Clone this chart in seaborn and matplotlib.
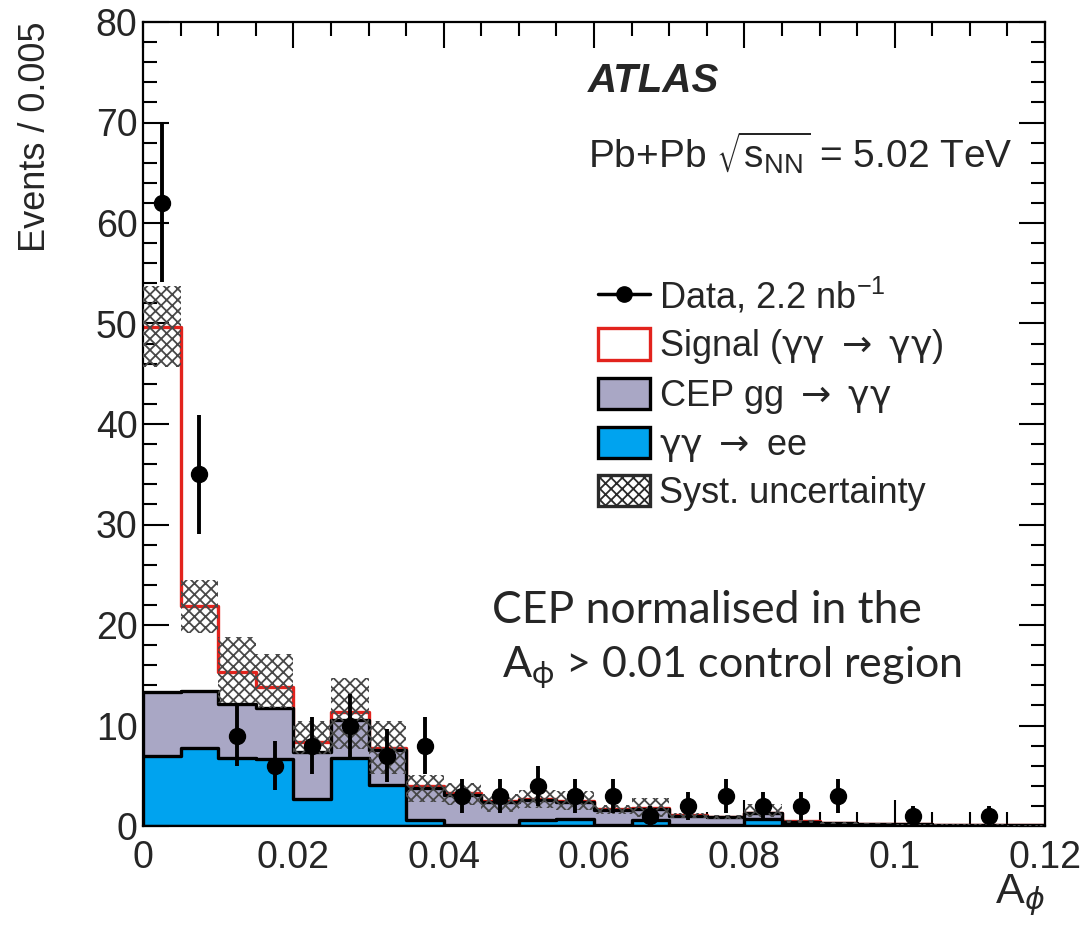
import numpy as np
import pandas as pd
import matplotlib
matplotlib.use("Agg")
import matplotlib.pyplot as plt
import seaborn as sns
from matplotlib.lines import Line2D
from matplotlib.patches import Patch
from matplotlib.ticker import MultipleLocator

# ---- binning and per-bin yields (Events / 0.005) ----
bin_edges = [round(0.005 * i, 3) for i in range(25)]

data_counts = [62, 35, 9, 6, 8, 10, 7, 8, 3, 3, 4, 3, 3, 1, 2, 3, 2, 2, 3, 0, 1, 0, 1, 0]
data_errors = [7.9, 5.9, 3.0, 2.45, 2.8, 3.15, 2.65, 2.8, 1.7, 1.7, 2.0, 1.7,
               1.7, 1.0, 1.4, 1.7, 1.4, 1.4, 1.7, 0.0, 1.0, 0.0, 1.0, 0.0]

ee_yield = [7.0, 7.8, 6.8, 6.7, 2.65, 6.8, 4.05, 0.6, 0.05, 0.05, 0.6, 0.65,
            0.05, 0.6, 0.05, 0.05, 0.7, 0.05, 0.0, 0.0, 0.0, 0.0, 0.0, 0.0]
cep_yield = [6.3, 5.6, 5.3, 5.0, 4.75, 3.75, 3.5, 3.2, 3.05, 2.3, 2.0, 1.75,
             1.55, 1.1, 0.95, 0.8, 0.55, 0.35, 0.3, 0.2, 0.15, 0.1, 0.1, 0.05]
signal_yield = [36.4, 8.5, 3.25, 2.1, 1.0, 0.75, 0.25, 0.2, 0.15, 0.1, 0.1, 0.1,
                0.1, 0.05, 0.05, 0.05, 0.05, 0.05, 0.0, 0.0, 0.0, 0.0, 0.0, 0.0]
syst_up = [4.0, 2.6, 3.45, 3.3, 2.0, 3.4, 2.6, 1.1, 1.05, 0.75, 0.9, 1.0,
           0.4, 1.0, 0.2, 0.2, 0.9, 0.15, 0.1, 0.05, 0.05, 0.05, 0.05, 0.05]
syst_down = [4.0, 2.7, 3.15, 2.1, 1.2, 3.6, 2.6, 1.6, 1.15, 1.05, 0.9, 0.9,
             0.5, 0.9, 0.3, 0.2, 0.4, 0.15, 0.1, 0.05, 0.05, 0.05, 0.05, 0.05]

x_tick_values = [0, 0.02, 0.04, 0.06, 0.08, 0.1, 0.12]
x_tick_labels = ["0", "0.02", "0.04", "0.06", "0.08", "0.1", "0.12"]
y_tick_values = [0, 10, 20, 30, 40, 50, 60, 70, 80]

GG = r"$\mathrm{\gamma\gamma}$"
ARROW = r"$\rightarrow$"
legend_labels = [r"Data, 2.2 nb$^{\mathregular{-1}}$",
                 f"Signal ({GG} {ARROW} {GG})",
                 f"CEP gg {ARROW} {GG}",
                 f"{GG} {ARROW} ee",
                 "Syst. uncertainty"]

# ---- styling ----
RED = "#e2231d"
GRAY = "#a9a7c5"
BLUE = "#00a3ef"
HATCH = "#484848"

sns.set_theme(style="ticks")
plt.rcParams["font.family"] = ["Liberation Sans", "DejaVu Sans"]
plt.rcParams["mathtext.fontset"] = "dejavusans"
plt.rcParams["hatch.linewidth"] = 1.3

W, H = 1091, 926
fig = plt.figure(figsize=(W / 100, H / 100), dpi=100)
ax_l, ax_r, ax_t, ax_b = 143, 1045, 22, 826
ax = fig.add_axes([ax_l / W, 1 - ax_b / H, (ax_r - ax_l) / W, (ax_b - ax_t) / H])

edges = np.array(bin_edges)
centers = 0.5 * (edges[:-1] + edges[1:])
ee = np.array(ee_yield)
bkg = ee + np.array(cep_yield)
total = bkg + np.array(signal_yield)

df = pd.DataFrame({"A_phi": centers, "total": total, "bkg": bkg, "ee": ee})

# total prediction (signal on top of the stack) as an open red step line
sns.histplot(data=df, x="A_phi", weights="total", bins=list(bin_edges), element="step",
             fill=False, color=RED, linewidth=2.4, zorder=0.9, ax=ax)
# background stack, drawn back to front as cumulative layers
for col, face in [("bkg", GRAY), ("ee", BLUE)]:
    sns.histplot(data=df, x="A_phi", weights=col, bins=list(bin_edges), element="step",
                 fill=True, color=face, alpha=1, edgecolor="black", linewidth=2.4, ax=ax)

# systematic uncertainty band on the total prediction
up = np.array(syst_up)
down = np.array(syst_down)
ax.bar(centers, up + down, bottom=total - down, width=np.diff(edges),
       facecolor="none", edgecolor=HATCH, hatch="xxx", linewidth=0, zorder=3)

# data points with statistical errors
counts = np.array(data_counts, dtype=float)
errs = np.array(data_errors)
mask = counts > 0
ax.errorbar(centers[mask], counts[mask], yerr=errs[mask], fmt="o", color="black",
            ms=11.5, elinewidth=2.8, capsize=0, zorder=5)

# axes
ax.set_xlim(0, 0.12)
ax.set_ylim(0, 80)
ax.set_xticks(x_tick_values)
ax.set_xticklabels(x_tick_labels)
ax.set_yticks(y_tick_values)
ax.xaxis.set_minor_locator(MultipleLocator(0.005))
ax.yaxis.set_minor_locator(MultipleLocator(2))
ax.tick_params(which="both", direction="in", top=True, right=True, width=1.5, color="black")
ax.tick_params(which="major", length=19)
ax.tick_params(which="minor", length=10)
ax.tick_params(axis="x", which="major", labelsize=27, pad=10)
ax.tick_params(axis="y", which="major", labelsize=27, pad=4)
for s in ax.spines.values():
    s.set_linewidth(1.6)
    s.set_color("black")
ax.set_facecolor("white")

ax.set_ylabel("Events / 0.005", loc="top", fontsize=26)
ax.yaxis.set_label_coords(-0.100, 1.0)
ax.set_xlabel(r"A$_{\phi}$", loc="right", fontsize=31)
ax.xaxis.set_label_coords(1.0, -0.058)

def fx(x):
    return (x - ax_l) / (ax_r - ax_l)

def fy(y):
    return (ax_b - y) / (ax_b - ax_t)

ax.text(fx(588), fy(92), "ATLAS", transform=ax.transAxes, fontsize=29,
        fontweight="bold", fontstyle="italic", va="baseline", ha="left")
ax.text(fx(588), fy(168), r"Pb+Pb $\sqrt{\mathregular{s}_{\mathregular{NN}}}$ = 5.02 TeV",
        transform=ax.transAxes, fontsize=28, va="baseline", ha="left")

# legend
handles = [
    Line2D([0], [0], color="black", marker="o", ms=11, lw=2.5),
    Patch(facecolor="white", edgecolor=RED, linewidth=2.4),
    Patch(facecolor=GRAY, edgecolor="black", linewidth=2.4),
    Patch(facecolor=BLUE, edgecolor="black", linewidth=2.4),
    Patch(facecolor="white", edgecolor="#2a2a2a", hatch="xxx", linewidth=2.4),
]
ax.legend(handles, legend_labels, loc="upper left", bbox_to_anchor=(fx(598), fy(276)),
          bbox_transform=ax.transAxes, frameon=False, fontsize=26, borderpad=0,
          borderaxespad=0, handlelength=1.45, handleheight=0.95, handletextpad=0.25,
          labelspacing=0.31)

# annotation about the CEP normalisation
ax.text(fx(492), fy(623), "CEP normalised in the", transform=ax.transAxes,
        fontsize=32, family=["Lato", "DejaVu Sans"], va="baseline", ha="left")
ax.text(fx(502), fy(677), r"A$_{\mathregular{ϕ}}$ > 0.01 control region", transform=ax.transAxes,
        fontsize=31, family=["Lato", "DejaVu Sans"], va="baseline", ha="left")

fig.savefig("out.png", dpi=100, facecolor="white")
